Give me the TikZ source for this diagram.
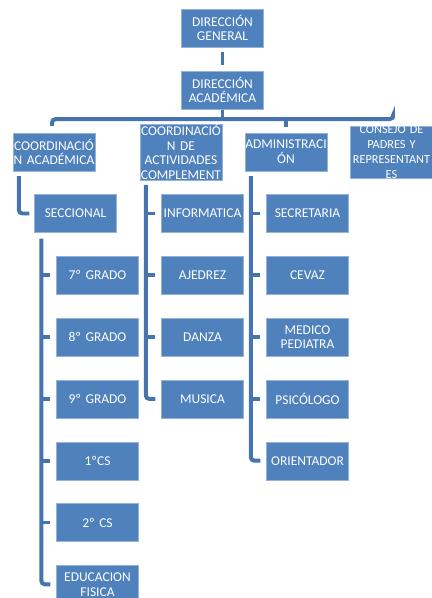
\documentclass[tikz,border=0pt]{standalone}
\usepackage{fontspec}
\setmainfont{Carlito}
\usetikzlibrary{calc}
\tikzset{>=stealth}
\definecolor{boxblue}{HTML}{4F81BD}
\definecolor{linkblue}{HTML}{4674AE}
\tikzset{
  box/.style={rectangle, fill=boxblue, draw=boxblue!60!white, line width=0.3pt,
    text=white, minimum width=2.46cm, minimum height=1.14cm, text width=2.86cm,
    align=center, inner xsep=-0.2cm, inner ysep=0pt, font=\fontsize{11.5}{12.6}\selectfont},
  link/.style={draw=linkblue, line width=3.4pt, rounded corners=3pt}
}
\pgfdeclarelayer{bg}
\pgfsetlayers{bg,main}

\begin{document}
\begin{tikzpicture}[x=0.03cm,y=-0.03cm]
  \useasboundingbox (0,0) rectangle (432,598);
  \clip (0,0) rectangle (432,598);

  % top of the chart
  \node[box] (gen) at (222.5,28) {DIRECCIÓN\\GENERAL};
  \node[box] (acad) at (222.5,90) {DIRECCIÓN\\ACADÉMICA};

  \node[box] (coord) at (54,152) {COORDINACIÓ\\N ACADÉMICA};
  \node[box] (act) at (181,152) {COORDINACIÓ\\N DE\\ACTIVIDADES\\COMPLEMENT};
  \node[box] (adm) at (286,152) {ADMINISTRACI\\ÓN};
  \node[box, font=\fontsize{10.5}{12.6}\selectfont] (cons) at (391.5,152) {CONSEJO DE\\PADRES Y\\REPRESENTANT\\ES};

  \node[box] (secc) at (75.5,213.5) {SECCIONAL};

  % columns
  \foreach \t [count=\i] in {7º GRADO,8º GRADO,9º GRADO,1ºCS,2º CS,{EDUCACION\\FISICA}}
    \node[box] (g\i) at (97.5,213.5+61.8*\i) {\t};
  \foreach \t [count=\i] in {INFORMATICA,AJEDREZ,DANZA,MUSICA}
    \node[box] (a\i) at (202.5,151.7+61.8*\i) {\t};
  \foreach \t [count=\i] in {SECRETARIA,CEVAZ,{MEDICO\\PEDIATRA},PSICÓLOGO,ORIENTADOR}
    \node[box] (d\i) at (307.5,151.7+61.8*\i) {\t};

  \begin{pgfonlayer}{bg}
    \draw[link] ($(gen.south)+(0,5)$) -- ($(acad.north)+(0,-6)$);
    \coordinate (bar) at ($(acad.south)+(0,10)$);
    \draw[link] (acad.south) -- (bar);
    \draw[link] ($(coord.north)+(-2,-7)$) |- (bar) -| ($(cons.north)+(1.5,-7)$);
    \draw[link] (bar -| act) -- ($(act.north)+(0,-6)$);
    \draw[link] (bar -| adm) -- ($(adm.north)+(0,-6)$);

    \draw[link] ($(coord.south west)+(6,5)$) |- ($(secc.west)+(-5,0)$);

    \draw[link] ($(secc.south west)+(7,6)$) |- ($(g6.west)+(-6,0)$);
    \foreach \i in {1,...,5}
      \draw[link] ($(g\i.west)+(-15,0)$) -- ($(g\i.west)+(-6,0)$);

    \draw[link] ($(act.south west)+(6,5)$) |- ($(a4.west)+(-6,0)$);
    \foreach \i in {1,...,3}
      \draw[link] ($(a\i.west)+(-16,0)$) -- ($(a\i.west)+(-6,0)$);

    \draw[link] ($(adm.south west)+(6,5)$) |- ($(d5.west)+(-6,0)$);
    \foreach \i in {1,...,4}
      \draw[link] ($(d\i.west)+(-16,0)$) -- ($(d\i.west)+(-6,0)$);
  \end{pgfonlayer}

\end{tikzpicture}
\end{document}
